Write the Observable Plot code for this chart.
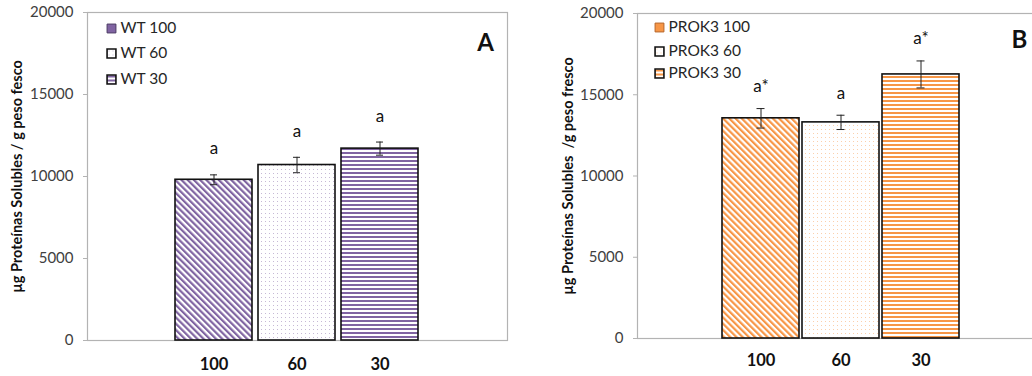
<!DOCTYPE html>
<html>
<head>
<meta charset="utf-8">
<script src="https://cdn.jsdelivr.net/npm/d3@7"></script>
<script src="https://cdn.jsdelivr.net/npm/@observablehq/plot@0.6"></script>
<style>
  html, body { margin: 0; padding: 0; background: #fff; }
  body { width: 1032px; height: 376px; overflow: hidden; font-family: Lato, "Open Sans", sans-serif; }
  #wrap { display: flex; width: 1032px; height: 376px; }
  .panel { width: 516px; height: 376px; overflow: hidden; flex: none; }
  .panel svg { max-width: none !important; }
</style>
</head>
<body>
<svg width="0" height="0" style="position:absolute">
  <defs>
    <pattern id="diagWT" width="4.4" height="4.4" patternUnits="userSpaceOnUse" patternTransform="rotate(-45)">
      <rect width="4.4" height="4.4" fill="#fff"/><rect width="2.2" height="4.4" fill="#8064A2"/>
    </pattern>
    <pattern id="dotsWT" width="4" height="4" patternUnits="userSpaceOnUse">
      <rect width="4" height="4" fill="#fff"/><rect x="1" y="1" width="1" height="1" fill="#8064A2" fill-opacity="0.45"/>
    </pattern>
    <pattern id="horzWT" width="4" height="4" patternUnits="userSpaceOnUse">
      <rect width="4" height="4" fill="#fff"/><rect width="4" height="2" fill="#8064A2"/>
    </pattern>
    <pattern id="diagPR" width="4.4" height="4.4" patternUnits="userSpaceOnUse" patternTransform="rotate(-45)">
      <rect width="4.4" height="4.4" fill="#fff"/><rect width="2.2" height="4.4" fill="#F79646"/>
    </pattern>
    <pattern id="dotsPR" width="4" height="4" patternUnits="userSpaceOnUse">
      <rect width="4" height="4" fill="#fff"/><rect x="1" y="1" width="1" height="1" fill="#F79646" fill-opacity="0.45"/>
    </pattern>
    <pattern id="horzPR" width="4" height="4" patternUnits="userSpaceOnUse">
      <rect width="4" height="4" fill="#fff"/><rect width="4" height="2" fill="#F79646"/>
    </pattern>
  </defs>
</svg>
<div id="wrap">
  <div class="panel" id="panelA"></div>
  <div class="panel" id="panelB"></div>
</div>
<script>
// ---- data ----
const categories = ["100", "60", "30"];
const yTicks = [0, 5000, 10000, 15000, 20000];

const wtMeans = [9800, 10700, 11700];
const wtErrors = [300, 470, 400];
const wtLetters = ["a", "a", "a"];
const wtLegend = ["WT 100", "WT 60", "WT 30"];

const prokMeans = [13550, 13300, 16250];
const prokErrors = [600, 440, 830];
const prokLetters = ["a*", "a", "a*"];
const prokLegend = ["PROK3 100", "PROK3 60", "PROK3 30"];

const yLabelA = "µg Proteínas Solubles / g peso fesco";
const yLabelB = "µg Proteínas Solubles  /g peso fresco";

const FONT = "Lato, 'Open Sans', sans-serif";

function panel(cfg) {
  const rows = categories.map((c, i) => ({cat: c, v: cfg.means[i], e: cfg.errors[i], letter: cfg.letters[i], fill: cfg.fills[i]}));
  const bw = cfg.bandwidth;
  const legendMarks = cfg.legend.flatMap((lab, i) => [
    Plot.dot([lab], {frameAnchor: "top-left", dx: cfg.legDx, dy: cfg.legDy[i], symbol: "square", r: 5, fill: cfg.legFills[i], stroke: cfg.legStrokes[i], strokeWidth: cfg.legStrokeW[i]}),
    Plot.text([lab], {frameAnchor: "top-left", dx: cfg.legDx + 9, dy: cfg.legDy[i], text: d => d, textAnchor: "start", lineAnchor: "middle", fontSize: 15.5, fill: "#262626", fontFamily: FONT})
  ]);
  return Plot.plot({
    width: cfg.width,
    height: 376,
    marginLeft: cfg.marginLeft,
    marginRight: cfg.marginRight,
    marginTop: cfg.marginTop,
    marginBottom: cfg.marginBottom,
    style: {fontFamily: FONT, background: "white", overflow: "visible", maxWidth: "none"},
    x: {domain: categories, paddingInner: cfg.padding, paddingOuter: 0, insetLeft: cfg.inset[0], insetRight: cfg.inset[1]},
    y: {domain: [0, 20000]},
    marks: [
      Plot.frame({stroke: "#b3b3b3", strokeWidth: 1.2}),
      Plot.axisY({ticks: yTicks, tickSize: 4, tickPadding: 10, tickFormat: d => String(d), fontSize: 15, color: "#404040", stroke: "#b3b3b3", label: null}),
      Plot.axisX({tickSize: 0, tickPadding: cfg.xPad, fontSize: 16.5, fontWeight: "bold", color: "#111", label: null}),
      Plot.barY(rows, {x: "cat", y: "v", fill: "fill", stroke: "#111", strokeWidth: 1.6}),
      Plot.ruleX(rows, {x: "cat", y1: d => d.v - d.e, y2: d => d.v + d.e, stroke: "#222", strokeWidth: 1}),
      Plot.tickY(rows, {x: "cat", y: d => d.v + d.e, stroke: "#222", strokeWidth: 1, insetLeft: bw / 2 - 4, insetRight: bw / 2 - 4}),
      Plot.tickY(rows, {x: "cat", y: d => d.v - d.e, stroke: "#222", strokeWidth: 1, insetLeft: bw / 2 - 4, insetRight: bw / 2 - 4}),
      Plot.text(rows, {x: "cat", y: d => d.v + d.e, text: "letter", dy: cfg.letterDy, lineAnchor: "middle", fontSize: 17, fill: "#111", fontFamily: FONT}),
      Plot.text([cfg.yLabel], {frameAnchor: "left", text: d => d, textAnchor: "middle", rotate: -90, dx: cfg.yLabelDx, fontSize: 14.5, fontWeight: "bold", fill: "#111", fontFamily: FONT}),
      Plot.text([cfg.tag], {frameAnchor: "top-left", text: d => d, textAnchor: "middle", dx: cfg.tagDx, dy: cfg.tagDy, fontSize: 24, fontWeight: "bold", fill: "#111", lineAnchor: "middle", fontFamily: FONT}),
      ...legendMarks
    ]
  });
}

const A = panel({
  width: 516, marginLeft: 87, marginRight: 9, marginTop: 12, marginBottom: 36,
  padding: 0.071, inset: [87, 87], bandwidth: 78, xPad: 18,
  means: wtMeans, errors: wtErrors, letters: wtLetters,
  fills: ["url(#diagWT)", "url(#dotsWT)", "url(#horzWT)"],
  legend: wtLegend, legDx: 24, legDy: [16, 41, 67],
  legFills: ["#8064A2", "url(#dotsWT)", "url(#horzWT)"],
  legStrokes: ["#4b3a63", "#111", "#111"], legStrokeW: [1, 1.6, 1.6],
  letterDy: -26, yLabel: yLabelA, yLabelDx: -70, tag: "A", tagDx: 398, tagDy: 31
});
const B = panel({
  width: 530, marginLeft: 121, marginRight: 4, marginTop: 13, marginBottom: 38,
  padding: 0.043, inset: [84, 83], bandwidth: 77, xPad: 16,
  means: prokMeans, errors: prokErrors, letters: prokLetters,
  fills: ["url(#diagPR)", "url(#dotsPR)", "url(#horzPR)"],
  legend: prokLegend, legDx: 22, legDy: [14, 38, 60],
  legFills: ["#F79646", "url(#dotsPR)", "url(#horzPR)"],
  legStrokes: ["#b5652a", "#111", "#111"], legStrokeW: [1, 1.6, 1.6],
  letterDy: -22, yLabel: yLabelB, yLabelDx: -69, tag: "B", tagDx: 382, tagDy: 27
});
document.getElementById("panelA").appendChild(A);
document.getElementById("panelB").appendChild(B);
</script>
</body>
</html>
